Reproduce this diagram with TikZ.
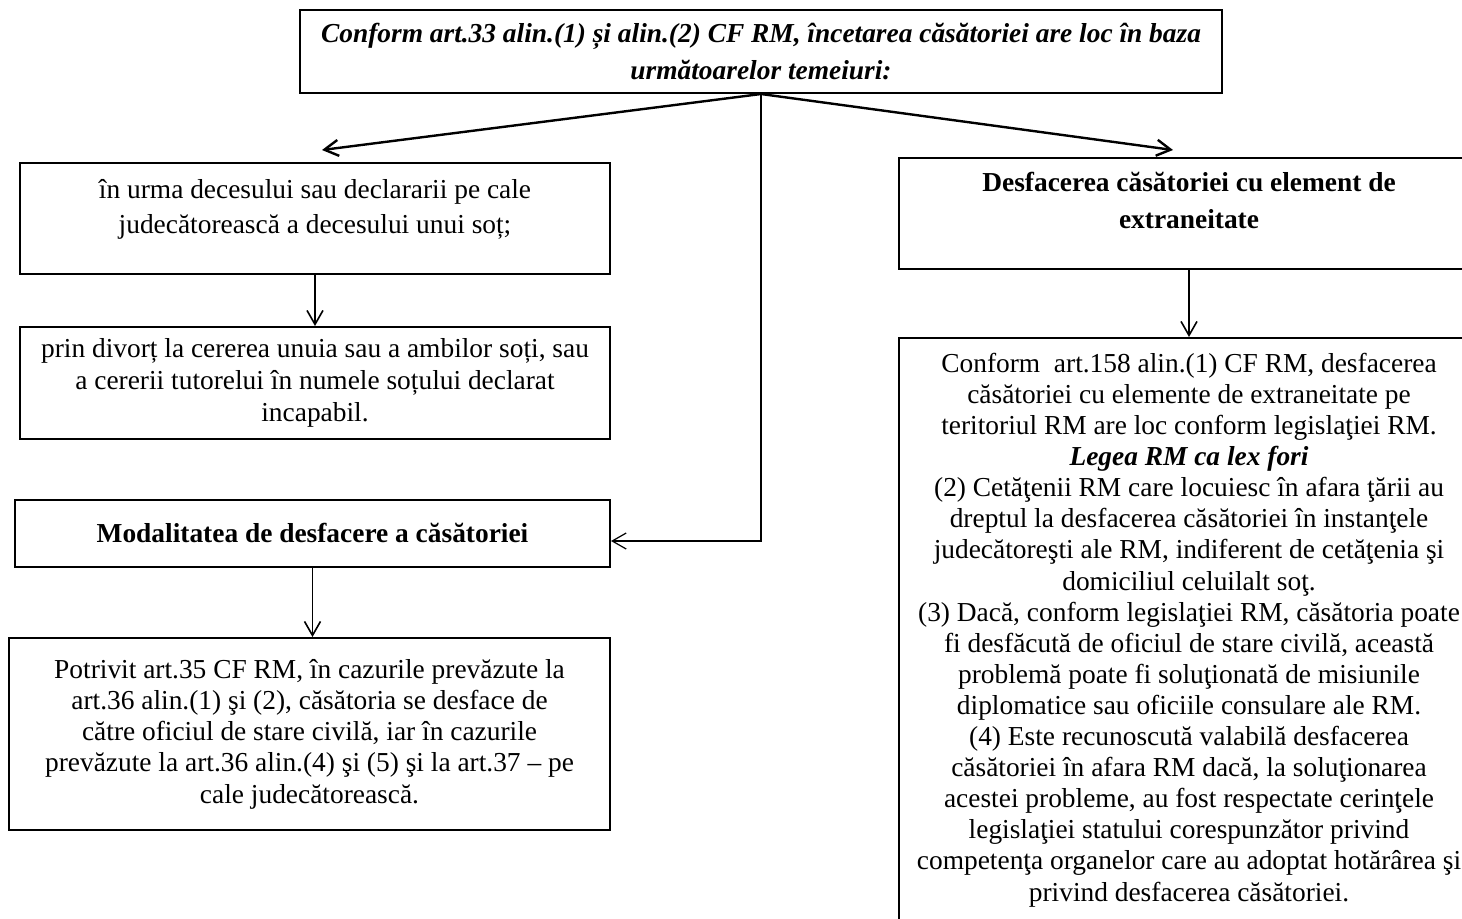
\documentclass[tikz,border=0pt]{standalone}
\usepackage{fontspec}
\setmainfont{Liberation Serif}
\usetikzlibrary{arrows.meta,positioning}
\tikzset{
  box/.style={draw, line width=1pt, align=center, inner sep=0pt},
  flow/.style={line width=0.8pt, -{Straight Barb[length=7pt,width=8pt]}},
}

\begin{document}
\begin{tikzpicture}[x=0.5pt, y=-0.5pt, font=\fontsize{13.7}{15.6}\selectfont]
\useasboundingbox (0,0) rectangle (1462,918);
\clip (0,0) rectangle (1462,918);
% heading
\node[box, minimum width=461pt, minimum height=41.5pt,
      font=\bfseries\itshape\fontsize{13.7}{18.5}\selectfont] (title) at (761,51.5)
   {Conform art.33 alin.(1) și alin.(2) CF RM, încetarea căsătoriei are loc în baza\\
    următoarelor temeiuri:};
% left column
\node[box, minimum width=295pt, minimum height=55.5pt,
      font=\fontsize{13.7}{17.5}\selectfont] (deces) at (315,218.5)
   {în urma decesului sau declararii pe cale\\
    judecătorească a decesului unui soț;\\[-5.5pt]};
\node[box, minimum width=295pt, minimum height=56pt,
      font=\fontsize{13.7}{15.85}\selectfont] (divort) at (315,383)
   {prin divorț la cererea unuia sau a ambilor soți, sau\\
    a cererii tutorelui în numele soțului declarat\\
    incapabil.};
\node[box, minimum width=297.5pt, minimum height=33.5pt,
      font=\bfseries\fontsize{13.7}{15.6}\selectfont] (modal) at (312.5,533)
   {Modalitatea de desfacere a căsătoriei};
\node[box, minimum width=300.5pt, minimum height=96pt] (potrivit) at (309.5,734)
   {Potrivit art.35 CF RM, în cazurile prevăzute la\\
    art.36 alin.(1) şi (2), căsătoria se desface de\\
    către oficiul de stare civilă, iar în cazurile\\
    prevăzute la art.36 alin.(4) şi (5) şi la art.37 – pe\\
    cale judecătorească.};
% right column (runs past the page edge)
\node[box, minimum width=290pt, minimum height=55.5pt,
      font=\bfseries\fontsize{13.7}{18.5}\selectfont] (extra) at (1189,213.5)
   {Desfacerea căsătoriei cu element de\\
    extraneitate\\[-5.5pt]};
\node[box, minimum width=290pt, minimum height=292pt,
      font=\fontsize{13.7}{15.55}\selectfont] (art158) at (1189,630)
   {Conform\ \ art.158 alin.(1) CF RM, desfacerea\\
    căsătoriei cu elemente de extraneitate pe\\
    teritoriul RM are loc conform legislaţiei RM.\\
    \textbf{\textit{Legea RM ca lex fori}}\\
    (2) Cetăţenii RM care locuiesc în afara ţării au\\
    dreptul la desfacerea căsătoriei în instanţele\\
    judecătoreşti ale RM, indiferent de cetăţenia şi\\
    domiciliul celuilalt soţ.\\
    (3) Dacă, conform legislaţiei RM, căsătoria poate\\
    fi desfăcută de oficiul de stare civilă, această\\
    problemă poate fi soluţionată de misiunile\\
    diplomatice sau oficiile consulare ale RM.\\
    (4) Este recunoscută valabilă desfacerea\\
    căsătoriei în afara RM dacă, la soluţionarea\\
    acestei probleme, au fost respectate cerinţele\\
    legislaţiei statului corespunzător privind\\
    competenţa organelor care au adoptat hotărârea şi\\
    privind desfacerea căsătoriei.};
% arrows
\coordinate (lend) at (322,150);
\coordinate (rend) at (1173,150);
\draw[flow, line width=1.2pt] (title.south) -- (lend);
\draw[flow, line width=1.2pt] (title.south) -- (rend);
\draw[flow, line width=0.6pt] (title.south) |- ([yshift=-4pt]modal.east);
\draw[flow] (deces) -- (divort);
\draw[flow] (modal.south) -- (modal.south |- potrivit.north);
\draw[flow] (extra) -- (art158);
\end{tikzpicture}
\end{document}
